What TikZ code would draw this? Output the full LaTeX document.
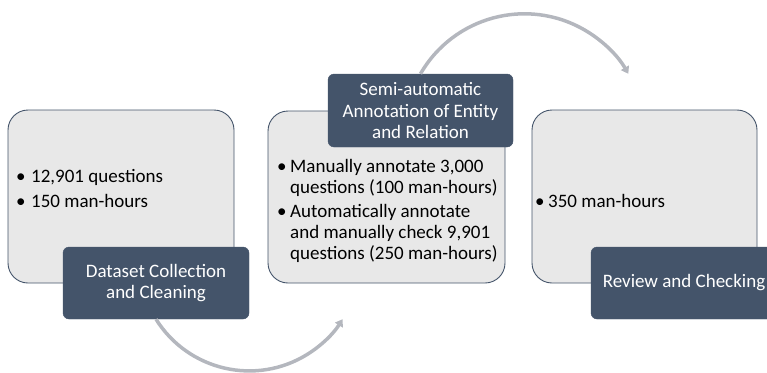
\documentclass[tikz,border=0pt]{standalone}
\usepackage{fontspec}
\setmainfont{Carlito}
\usetikzlibrary{arrows.meta}
\definecolor{darkbox}{HTML}{44546A}
\definecolor{lightbox}{HTML}{E8E8E8}
\definecolor{arcgray}{HTML}{B4B7BE}
\begin{document}
\begin{tikzpicture}[x=1pt,y=-1pt,
  lightnode/.style={draw=darkbox, line width=0.9pt, fill=lightbox, rounded corners=20pt, inner sep=0pt},
  darknode/.style={fill=darkbox, draw=darkbox, rounded corners=6pt, text=white, align=center, inner sep=0pt,
    minimum width=186pt, minimum height=72pt, font=\fontsize{19}{21.5}\selectfont},
  txt/.style={anchor=base west, inner sep=0pt, font=\fontsize{19}{21.5}\selectfont},
  flowarc/.style={draw=arcgray, line width=3.5pt, -{Triangle[length=7pt,width=9pt]}}]
\useasboundingbox (0,0) rectangle (767,372);
\clip (0,0) rectangle (767,372);
% light boxes
\node[lightnode, minimum width=226pt, minimum height=173pt] (b1) at (121,196.5) {};
\node[lightnode, minimum width=237pt, minimum height=172pt] (b2) at (386.5,197) {};
\node[lightnode, minimum width=225pt, minimum height=173pt] (b3) at (644.5,196.5) {};
% box 1 text
\node[txt] (b1p1) at (16,182) {\textbullet};
\node[txt] (b1t1) at (31,182) {12,901 questions};
\node[txt] (b1p2) at (16,207) {\textbullet};
\node[txt] (b1t2) at (31,207) {150 man-hours};
% box 2 text
\node[txt] (b2p1) at (277,172) {\textbullet};
\node[txt] (b2t1) at (290,172) {Manually annotate 3,000};
\node[txt] (b2t2) at (290,193) {questions (100 man-hours)};
\node[txt] (b2p2) at (277,217) {\textbullet};
\node[txt] (b2t3) at (290,217) {Automatically annotate};
\node[txt] (b2t4) at (290,238) {and manually check 9,901};
\node[txt] (b2t5) at (290,259) {questions (250 man-hours)};
% box 3 text
\node[txt] (b3p1) at (535,207) {\textbullet};
\node[txt] (b3t1) at (548,207) {350 man-hours};
% dark title boxes
\node[darknode] (d1) at (156,283) {Dataset Collection\\and Cleaning};
\node[darknode, minimum width=185pt, minimum height=73pt] (d2) at (420.5,110.5) {Semi-automatic\\Annotation of Entity\\and Relation};
\node[darknode] (d3) at (684,283) {Review and Checking};
% arcs
\coordinate (e1) at (341.6,319);
\coordinate (e2) at (627.8,74);
\draw[flowarc] (d1.south) arc[start angle=212, end angle=328, radius=110pt];
\draw[flowarc] (d2.north) arc[start angle=150, end angle=30, radius=120pt];
\end{tikzpicture}
\end{document}
